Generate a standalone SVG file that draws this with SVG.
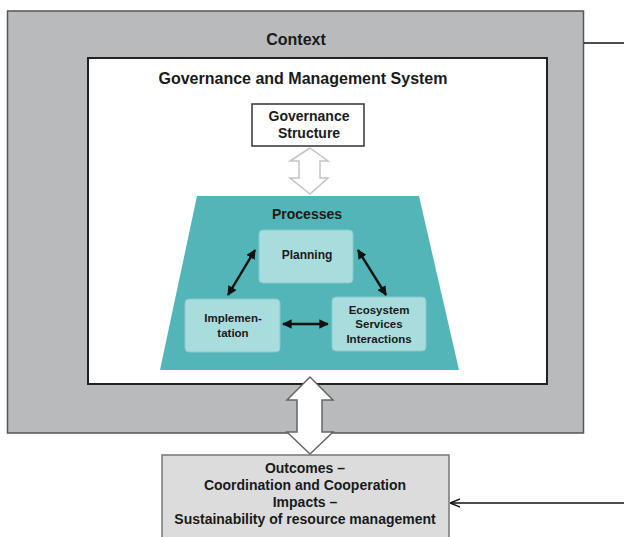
<svg xmlns="http://www.w3.org/2000/svg" width="624" height="537" viewBox="0 0 624 537">
<defs>
<style>
text{font-family:"Liberation Sans",Arial,sans-serif;font-weight:bold;fill:#1a1a1a;text-anchor:middle}
.t16{font-size:16px}
.t14{font-size:14px}
.t12{font-size:12px}
.t11{font-size:11.5px}
.proc{fill:#a9dcdc;stroke:#8cc9ca;stroke-width:1}
.ln{stroke:#111;stroke-width:2.4;fill:none}
</style>
<marker id="ah" viewBox="0 0 10 10" refX="9" refY="5" markerWidth="4" markerHeight="4" orient="auto-start-reverse">
<path d="M0,0 L10,5 L0,10 z" fill="#111"/>
</marker>
<marker id="ah2" viewBox="0 0 10 10" refX="9" refY="5" markerWidth="7" markerHeight="7" orient="auto">
<path d="M0,1 L10,5 L0,9" fill="none" stroke="#111" stroke-width="1.5"/>
</marker>
</defs>
<rect width="624" height="537" fill="#ffffff"/>
<g id="context">
<rect x="7.5" y="11" width="576" height="422" fill="#b9babb" stroke="#555" stroke-width="1.5"/>
<text class="t16" x="296" y="45">Context</text>
</g>
<g id="governance-management">
<rect x="88" y="58" width="459" height="326" fill="#ffffff" stroke="#222" stroke-width="2"/>
<text class="t16" x="303" y="84">Governance and Management System</text>
</g>
<g id="governance-structure">
<rect x="252" y="104" width="112" height="42" fill="#fff" stroke="#333" stroke-width="1.5"/>
<text class="t14" x="309" y="121">Governance</text>
<text class="t14" x="309" y="138">Structure</text>
</g>
<g id="processes">
<polygon points="197,196 419,196 459,370 160,370" fill="#52b5b8"/>
<text class="t14" x="307" y="219">Processes</text>
</g>
<g id="planning">
<rect x="259" y="230" width="94" height="53" rx="4" class="proc"/>
<text class="t12" x="307" y="259">Planning</text>
</g>
<g id="implementation">
<rect x="185" y="299" width="95" height="53" rx="4" class="proc"/>
<text class="t11" x="233" y="322">Implemen-</text>
<text class="t11" x="233" y="337">tation</text>
</g>
<g id="ecosystem">
<rect x="332" y="297" width="94" height="54" rx="4" class="proc"/>
<text class="t11" x="379" y="314">Ecosystem</text>
<text class="t11" x="379" y="328">Services</text>
<text class="t11" x="379" y="343">Interactions</text>
</g>
<g id="outcomes">
<rect x="162" y="455" width="287" height="90" fill="#dcdcdc" stroke="#777" stroke-width="1.5"/>
<text class="t14" x="305" y="473">Outcomes –</text>
<text class="t14" x="305" y="490">Coordination and Cooperation</text>
<text class="t14" x="305" y="507">Impacts –</text>
<text class="t14" x="305" y="524">Sustainability of resource management</text>
</g>
<g id="connectors">
<polygon points="310,148 328,161 320,161 320,178 328,178 310,194 290,178 299,178 299,161 290,161" fill="#fff" stroke="#c4c4c4" stroke-width="1.5"/>
<polygon points="310,377 333,400 322,400 322,432 333,432 310,454 287,432 297,432 297,400 287,400" fill="#fff" stroke="#666" stroke-width="1.5"/>
<line x1="255" y1="250" x2="228" y2="295" class="ln" marker-start="url(#ah)" marker-end="url(#ah)"/>
<line x1="358" y1="250" x2="386" y2="295" class="ln" marker-start="url(#ah)" marker-end="url(#ah)"/>
<line x1="283" y1="324" x2="328" y2="324" class="ln" marker-start="url(#ah)" marker-end="url(#ah)"/>
<line x1="584" y1="43" x2="624" y2="43" stroke="#111" stroke-width="1.5"/>
<line x1="624" y1="503" x2="451" y2="503" stroke="#111" stroke-width="1.5" marker-end="url(#ah2)"/>
</g>
</svg>
